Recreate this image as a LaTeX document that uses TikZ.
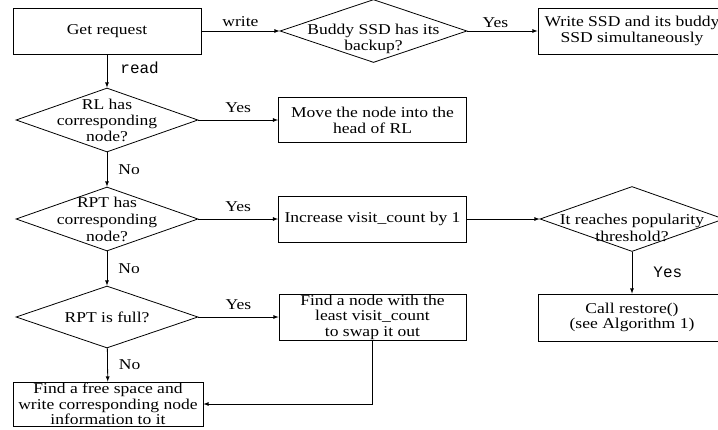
\documentclass[tikz,border=0pt]{standalone}
\usepackage{fontspec}
\setmainfont{Liberation Serif}[FakeStretch=1.17]
\newfontfamily\codefont{Liberation Mono}
\usetikzlibrary{shapes.geometric}

\begin{document}
\begin{tikzpicture}[x=1pt,y=-1pt,>=latex,line width=0.8pt]
\tikzstyle{every node}+=[inner sep=0pt, font=\fontsize{15}{16}\selectfont]
\tikzstyle{box}=[draw, rectangle, minimum width=188pt, minimum height=46pt, align=center]
\tikzstyle{decision}=[draw, diamond, minimum width=182pt, minimum height=64pt]
\tikzstyle{code}=[font=\codefont\fontsize{16}{16}\selectfont]
\path [use as bounding box, clip] (0,0) rectangle (718,429);
% process boxes
\node [box] (get) at (107,31) {Get request};
\node [box] (both) at (632,31) {Write SSD and its buddy\\SSD simultaneously};
\node [box, minimum height=45pt] (move) at (372.5,120) {Move the node into the\\head of RL};
\node [box] (inc) at (372.5,219) {Increase visit\_count by 1};
\node [box, minimum width=187pt, font=\fontsize{15}{15.5}\selectfont] (find) at (372.5,317) {Find a node with the\\least visit\_count\\to swap it out};
\node [box, minimum height=47pt, font=\fontsize{15}{15}\selectfont] (call) at (632,317.5) {Call restore()\\(see Algorithm 1)};
\node [box, minimum width=190pt, minimum height=44pt, font=\fontsize{15}{15.5}\selectfont] (free) at (108,404) {Find a free space and\\write corresponding node\\information to it};
% decisions
\node [decision, minimum width=187pt, minimum height=63pt,
  label={[align=center, yshift=-7.5pt]center:Buddy SSD has its\\backup?}] (buddy) at (373.5,31) {};
\node [decision, label={[align=center]center:RL has\\corresponding\\node?}] (rl) at (107,120) {};
\node [decision, label={[align=center, font=\fontsize{15}{17}\selectfont]center:RPT has\\corresponding\\node?}] (rpt) at (107,219) {};
\node [decision, minimum width=184pt, minimum height=65pt,
  label={[align=center, yshift=-8.5pt, font=\fontsize{15}{17}\selectfont]center:It reaches popularity\\threshold?}] (pop) at (632,219) {};
\node [decision, minimum height=62pt, label={center:RPT is full?}] (full) at (107,317) {};
% connectors
\draw [->] (get) -- node [above=4pt] {write} (buddy);
\draw [->] (buddy) -- node [above=3pt, pos=0.4] {Yes} (both);
\draw [->] (get) -- node [right=13pt, yshift=3pt, code] {read} (rl);
\draw [->] (rl) -- node [above=7pt] {Yes} (move);
\draw [->] (rl) -- node [right=11pt] {No} (rpt);
\draw [->] (rpt) -- node [above=7pt] {Yes} (inc);
\draw [->] (inc) -- (pop);
\draw [->] (pop) -- node [right=21pt, code] {Yes} (call);
\draw [->] (rpt) -- node [right=11pt] {No} (full);
\draw [->] (full) -- node [above=7pt] {Yes} (find);
\draw [->] (full) -- node [right=11pt] {No} (free);
\draw [->] (find) |- (free);
\end{tikzpicture}
\end{document}
